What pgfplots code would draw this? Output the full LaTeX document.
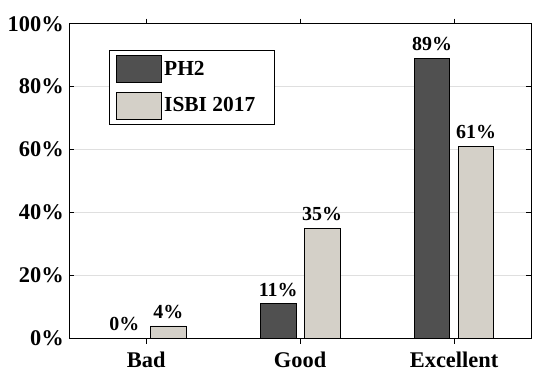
\documentclass[border=0pt]{standalone}
\usepackage{fontspec}
\setmainfont{Liberation Serif}
\usepackage{pgfplots}
\pgfplotsset{compat=1.18}
\usetikzlibrary{calc}

\definecolor{phtwo}{RGB}{80,80,80}
\definecolor{isbi}{RGB}{212,208,200}

\begin{document}
\begin{tikzpicture}
\begin{axis}[
  scale only axis, width=461.7bp, height=314.8bp,
  xmin=-0.5, xmax=2.5, ymin=0, ymax=100,
  xtick=data, xticklabels={Bad,Good,Excellent},
  ytick={0,20,40,60,80,100},
  yticklabel={\pgfmathprintnumber{\tick}\%},
  /pgf/number format/assume math mode=true,
  ticklabel style={font=\bfseries\fontsize{22.5}{22.5}\selectfont},
  xticklabel style={yshift=-5bp},
  yticklabel style={xshift=-2bp},
  tick align=inside, major tick length=5bp,
  tick style={black, line width=0.8bp},
  axis line style={black, line width=0.8bp},
  ymajorgrids, grid style={gray!25, line width=0.6bp},
  ybar, bar width=35.5bp,
  nodes near coords={\pgfmathprintnumber{\pgfplotspointmeta}\%},
  nodes near coords style={font=\bfseries\fontsize{20}{20}\selectfont, black, inner sep=1bp, yshift=6bp},
  legend style={at={(0.086,0.918)}, anchor=north west, draw=black, line width=0.8bp,
    font=\bfseries\fontsize{21.5}{21.5}\selectfont, inner xsep=7bp, inner ysep=5bp,
    row sep=9bp, cells={anchor=west}},
  legend image code/.code={\draw[#1, line width=0.8bp] (0bp,-13.5bp) rectangle (45bp,13.5bp);},
]
\addplot[fill=phtwo, draw=black, line width=0.8bp, bar shift=-22bp] coordinates {(0,0) (1,11) (2,89)};
\addlegendentry{PH2}
\addplot[fill=isbi, draw=black, line width=0.8bp, bar shift=22bp] coordinates {(0,4) (1,35) (2,61)};
\addlegendentry{ISBI 2017\kern10bp\null}
\end{axis}
\pgfresetboundingbox
\path[use as bounding box] ($(current axis.south west)+(-69.3bp,-32.5bp)$) rectangle ($(current axis.north east)+(16bp,23.7bp)$);
\end{tikzpicture}
\end{document}
